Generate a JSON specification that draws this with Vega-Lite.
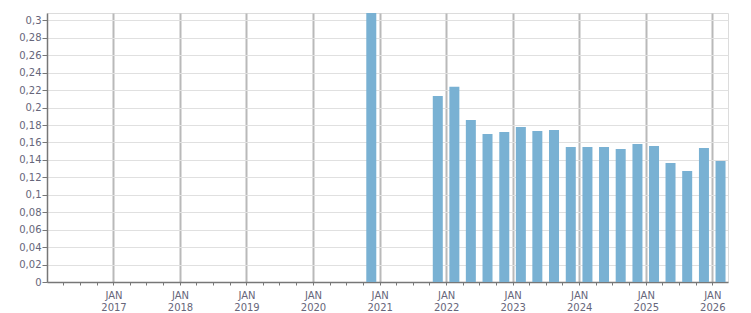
{
  "$schema": "https://vega.github.io/schema/vega-lite/v6.json",
  "width": 681,
  "height": 269,
  "autosize": {"type": "none"},
  "padding": {"left": 47, "top": 13, "right": 23, "bottom": 31},
  "background": "#ffffff",
  "config": {
    "view": {"stroke": "#dcdcdc", "strokeWidth": 1},
    "font": "DejaVu Sans",
    "axis": {
      "labelFont": "DejaVu Sans",
      "labelFontSize": 10,
      "labelColor": "#66667a",
      "domainColor": "#777777",
      "tickColor": "#777777",
      "title": null
    }
  },
  "data": {
    "values": [
      {"quarter": "2020-10-01", "value": 0.3085},
      {"quarter": "2021-10-01", "value": 0.2134},
      {"quarter": "2022-01-01", "value": 0.2238},
      {"quarter": "2022-04-01", "value": 0.1859},
      {"quarter": "2022-07-01", "value": 0.1698},
      {"quarter": "2022-10-01", "value": 0.1721},
      {"quarter": "2023-01-01", "value": 0.1778},
      {"quarter": "2023-04-01", "value": 0.1732},
      {"quarter": "2023-07-01", "value": 0.1744},
      {"quarter": "2023-10-01", "value": 0.1548},
      {"quarter": "2024-01-01", "value": 0.1548},
      {"quarter": "2024-04-01", "value": 0.1548},
      {"quarter": "2024-07-01", "value": 0.1525},
      {"quarter": "2024-10-01", "value": 0.1583},
      {"quarter": "2025-01-01", "value": 0.156},
      {"quarter": "2025-04-01", "value": 0.1364},
      {"quarter": "2025-07-01", "value": 0.1272},
      {"quarter": "2025-10-01", "value": 0.1537},
      {"quarter": "2026-01-01", "value": 0.1387}
    ]
  },
  "mark": {"type": "bar", "width": 10, "color": "#79b1d3", "clip": true},
  "encoding": {
    "x": {
      "field": "quarter",
      "type": "temporal",
      "timeUnit": "utcyearquarter",
      "bandPosition": 0.5,
      "scale": {
        "type": "utc",
        "domain": [
          {"year": 2016, "month": 1, "date": 2, "utc": true},
          {"year": 2026, "month": 3, "date": 28, "utc": true}
        ],
        "nice": false
      },
      "axis": {
        "tickCount": {"interval": "month", "step": 3},
        "labelExpr": "utcmonth(datum.value) == 0 ? ['JAN', utcFormat(datum.value, '%Y')] : ''",
        "labelLineHeight": 12,
        "labelPadding": 5,
        "labelAngle": 0,
        "labelAlign": "center",
        "labelOverlap": false,
        "labelFlush": false,
        "tickSize": 3,
        "domainWidth": 1.5,
        "grid": true,
        "gridColor": "#b9b9b9",
        "gridWidth": 2,
        "gridOpacity": {"condition": {"test": "utcmonth(datum.value) == 0", "value": 1}, "value": 0}
      }
    },
    "y": {
      "field": "value",
      "type": "quantitative",
      "scale": {"domain": [0, 0.3085], "nice": false, "zero": true},
      "axis": {
        "values": [0, 0.02, 0.04, 0.06, 0.08, 0.1, 0.12, 0.14, 0.16, 0.18, 0.2, 0.22, 0.24, 0.26, 0.28, 0.3],
        "labelExpr": "replace(format(datum.value, '.2~f'), '.', ',')",
        "tickSize": 5,
        "labelPadding": 1,
        "domainWidth": 1.5,
        "grid": true,
        "gridColor": "#e0e0e0",
        "gridWidth": 1.2
      }
    }
  }
}
